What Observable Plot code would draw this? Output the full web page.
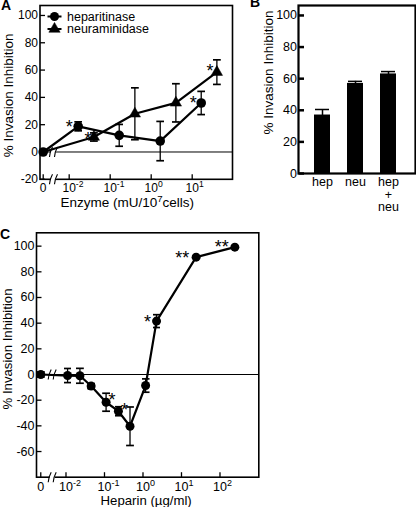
<!DOCTYPE html>
<html><head><meta charset="utf-8">
<script src="https://cdn.jsdelivr.net/npm/d3@7"></script>
<script src="https://cdn.jsdelivr.net/npm/@observablehq/plot@0.6"></script>
<style>
body{margin:0;background:#fff;}
#fig{position:relative;width:416px;height:507px;overflow:hidden;font-family:'Liberation Sans',Arial,Helvetica,sans-serif;}
.plab{position:absolute;font-weight:bold;font-size:14px;line-height:14px;}
</style></head>
<body><div id="fig"></div>
<script>
// ---------- Panel A data ----------
const hepDose  = [0, 0.0166, 0.166, 1.66, 16.6];
const hepInhib = [0, 18.8, 12.2, 8, 35.9];
const hepErr   = [0, 3.3, 8, 14.4, 8.5];
const neuDose  = [0, 0.04, 0.4, 4, 40];
const neuInhib = [0, 11, 28, 36, 58.5];
const neuErr   = [0, 3, 19, 14, 9];
const legendA  = ["heparitinase", "neuraminidase"];
const yTicksA  = [-20, 0, 20, 40, 60, 80, 100];
const xTicksA  = [0, 0.01, 0.1, 1, 10];
// ---------- Panel B data ----------
const bCategories = ["hep", "neu", "hep\n+\nneu"];
const bValues     = [37, 57, 63];
const bErr        = [3.5, 1.3, 1.5];
const yTicksB     = [0, 20, 40, 60, 80, 100];
// ---------- Panel C data ----------
const heparinDose  = [0, 0.011, 0.023, 0.045, 0.11, 0.23, 0.46, 1.17, 2.25, 24, 243];
const heparinInhib = [0, -0.8, -1, -9, -21.6, -28.6, -40.3, -8.6, 41.6, 91.4, 99.2];
const heparinErr   = [2, 5.5, 5.8, 2, 7, 3.5, 15, 5.2, 5, 0, 0];
const yTicksC      = [-60, -40, -20, 0, 20, 40, 60, 80, 100];
const xTicksC      = [0, 0.01, 0.1, 1, 10, 100];

const FONT = "'Liberation Sans', Arial, Helvetica, sans-serif";
const fig = document.getElementById("fig");

// axis-break positions on the log axes (zero is drawn left of the break)
const ZERO_A = 10 ** -2.634, BREAK_A = 10 ** -2.383;
const ZERO_C = 10 ** -2.655, BREAK_C = 10 ** -2.358;

const supFmt = (zero) => d => d === zero ? "0" : "10^{" + Math.round(Math.log10(d)) + "}";

// custom symbols
const breakBack = {draw(c){ c.moveTo(-4,5); c.lineTo(-1,-5); c.lineTo(4,-5); c.lineTo(1,5); c.closePath(); }};
const breakLines = {draw(c){ c.moveTo(-4,5); c.quadraticCurveTo(-3.8,0,-1,-5); c.moveTo(1,5); c.quadraticCurveTo(1.2,0,4,-5); }};
const legendLine = {draw(c){ c.moveTo(-7,0); c.lineTo(7,0); }};
const tickIn = (len, dir) => ({draw(c){ c.moveTo(0,0); if (dir === "x") c.lineTo(len,0); else c.lineTo(0,-len); }});

function rows(xs, ys, es, zero) {
  return xs.map((x, i) => ({x: x === 0 ? zero : x, y: ys[i], e: es[i]}));
}
function star(pt, label, dx, dy, fs = 18) {
  return Plot.text([pt], {x: "x", y: "y", text: () => label, dx, dy: dy + 0.265 * fs,
    fontSize: fs, textAnchor: "middle", lineAnchor: "middle", fill: "black"});
}
function errorBars(data, sw = 1.3) {
  return Plot.link(data.filter(d => d.e > 0), {x1: "x", x2: "x", y1: d => d.y - d.e, y2: d => d.y + d.e,
    stroke: "black", strokeWidth: sw, marker: "tick"});
}
function breakMarks(xv, yvals) {
  const d = yvals.map(y => ({x: xv, y}));
  return [
    Plot.dot(d, {x: "x", y: "y", symbol: breakBack, fill: "white", stroke: "none"}),
    Plot.dot(d, {x: "x", y: "y", symbol: breakLines, fill: "none", stroke: "black", strokeWidth: 1.1})
  ];
}
// inward ticks + labels on the left
function leftAxis(ticks, {fs, sw, len = 5, pad = 2}) {
  return [
    Plot.dot(ticks, {y: d => d, frameAnchor: "left", symbol: tickIn(len, "x"), stroke: "black", strokeWidth: sw}),
    Plot.text(ticks, {y: d => d, frameAnchor: "left", text: d => String(d), dx: -pad,
      textAnchor: "end", lineAnchor: "middle", fontSize: fs, fill: "black"})
  ];
}
// inward ticks + labels at the bottom
function bottomAxis(ticks, fmt, {fs, sw, len = 5, pad = 3}) {
  return [
    Plot.dot(ticks, {x: d => d, frameAnchor: "bottom", symbol: tickIn(len, "y"), stroke: "black", strokeWidth: sw}),
    Plot.text(ticks, {x: d => d, frameAnchor: "bottom", text: fmt, dy: pad,
      textAnchor: "middle", lineAnchor: "top", fontSize: fs, fill: "black"})
  ];
}

// turn "10^{-2}" into real superscript tspans
function supify(svg, fs) {
  svg.querySelectorAll("text, tspan").forEach(el => {
    if (el.children.length) return;
    const t = el.textContent;
    if (!t.includes("^{")) return;
    const m = t.match(/^(.*?)\^\{([^}]*)\}(.*)$/);
    if (!m) return;
    const size = parseFloat(getComputedStyle(el).fontSize) || fs;
    const ns = "http://www.w3.org/2000/svg";
    el.textContent = "";
    const base = document.createElementNS(ns, "tspan"); base.textContent = m[1];
    const sup = document.createElementNS(ns, "tspan"); sup.textContent = m[2];
    sup.setAttribute("font-size", (size * 0.72).toFixed(1));
    sup.setAttribute("dy", (-size * 0.38).toFixed(1));
    el.appendChild(base); el.appendChild(sup);
    if (m[3]) {
      const after = document.createElementNS(ns, "tspan"); after.textContent = m[3];
      after.setAttribute("dy", (size * 0.38).toFixed(1));
      el.appendChild(after);
    } else {
      const w = sup.getComputedTextLength();
      base.setAttribute("dx", (w / 2).toFixed(1));
    }
  });
}
function place(svg, left, top, fs) {
  const w = document.createElement("div");
  w.style.position = "absolute"; w.style.left = left + "px"; w.style.top = top + "px";
  w.appendChild(svg); fig.appendChild(w);
  supify(svg, fs);
}
function label(text, left, top) {
  const d = document.createElement("div"); d.className = "plab";
  d.style.left = left + "px"; d.style.top = top + "px"; d.textContent = text; fig.appendChild(d);
}

// ================= Panel A =================
const hepA = rows(hepDose, hepInhib, hepErr, ZERO_A);
const neuA = rows(neuDose, neuInhib, neuErr, ZERO_A);
const plotA = Plot.plot({
  width: 240, height: 215, marginLeft: 39.5, marginRight: 8, marginTop: 5, marginBottom: 36.2,
  style: {fontFamily: FONT, fontSize: "12px", color: "black", background: "transparent", overflow: "visible"},
  x: {type: "log", domain: [10 ** -2.712, 10 ** 1.983], axis: null},
  y: {domain: [-20, 107.3], axis: null},
  marks: [
    Plot.ruleY([0], {stroke: "black", strokeWidth: 1}),
    Plot.frame({stroke: "black", strokeWidth: 1.6}),
    ...leftAxis(yTicksA, {fs: 12, sw: 1.3, len: 5, pad: 2}),
    ...bottomAxis(xTicksA.map(d => d === 0 ? ZERO_A : d), supFmt(ZERO_A), {fs: 12, sw: 1.3, len: 5, pad: 4}),
    ...breakMarks(BREAK_A, [0, -20]),
    errorBars(hepA), errorBars(neuA),
    Plot.line(hepA, {x: "x", y: "y", stroke: "black", strokeWidth: 2.2}),
    Plot.line(neuA, {x: "x", y: "y", stroke: "black", strokeWidth: 2.2}),
    Plot.dot(hepA, {x: "x", y: "y", r: 4.8, fill: "black"}),
    Plot.dot(neuA.filter(d => d.x !== ZERO_A), {x: "x", y: "y", r: 4.2, symbol: "triangle", fill: "black", stroke: "black", strokeWidth: 0.5}),
    star(hepA[1], "*", -9, -4), star(hepA[4], "*", -8, -4.5),
    star(neuA[1], "*", -6, -3), star(neuA[4], "*", -7, -6),
    // legend
    Plot.dot([0], {frameAnchor: "top-left", dx: 14.5, dy: 11, symbol: legendLine, stroke: "black", strokeWidth: 2}),
    Plot.dot([0], {frameAnchor: "top-left", dx: 14.5, dy: 11, r: 4.5, fill: "black"}),
    Plot.dot([0], {frameAnchor: "top-left", dx: 14.5, dy: 23.5, symbol: legendLine, stroke: "black", strokeWidth: 2}),
    Plot.dot([0], {frameAnchor: "top-left", dx: 14.5, dy: 23.5, r: 4.2, symbol: "triangle", fill: "black", stroke: "black", strokeWidth: 0.5}),
    Plot.text([legendA[0]], {frameAnchor: "top-left", dx: 27, dy: 11, textAnchor: "start", lineAnchor: "middle", fontSize: 12.5}),
    Plot.text([legendA[1]], {frameAnchor: "top-left", dx: 27, dy: 23.5, textAnchor: "start", lineAnchor: "middle", fontSize: 12.5}),
    // axis titles
    Plot.text(["% Invasion Inhibition"], {frameAnchor: "left", dx: -31.5, dy: 3, rotate: -90, textAnchor: "middle", lineAnchor: "middle", fontSize: 13.5}),
    Plot.text(["Enzyme (mU/10^{7}cells)"], {frameAnchor: "bottom", dx: -9, dy: 23.5, textAnchor: "middle", lineAnchor: "middle", fontSize: 13.5})
  ]
});
place(plotA, 0, 0, 13.5);
label("A", 1, -2);

// ================= Panel B =================
const bRows = bCategories.map((c, i) => ({c, v: bValues[i], e: bErr[i]}));
const plotB = Plot.plot({
  width: 166, height: 215, marginLeft: 48, marginRight: 1, marginTop: 5, marginBottom: 42,
  style: {fontFamily: FONT, fontSize: "12.5px", color: "black", background: "transparent", overflow: "visible"},
  x: {type: "band", domain: bCategories, range: [46.4, 162.6], paddingInner: 0.53, paddingOuter: 0.5, axis: null},
  y: {domain: [0, 106.3], axis: null},
  marks: [
    Plot.barY(bRows, {x: "c", y: "v", fill: "black"}),
    Plot.ruleX(bRows, {x: "c", y1: d => d.v - d.e, y2: d => d.v + d.e, stroke: "black", strokeWidth: 1.5}),
    Plot.tickY(bRows, {x: "c", y: d => d.v + d.e, stroke: "black", strokeWidth: 1.5, insetLeft: 1, insetRight: 1}),
    Plot.frame({stroke: "black", strokeWidth: 2.2}),
    ...leftAxis(yTicksB, {fs: 12.5, sw: 2.5, len: 5.5, pad: 1.5}),
    Plot.text(bRows, {x: "c", frameAnchor: "bottom", text: "c", dy: 4, textAnchor: "middle", lineAnchor: "top", fontSize: 12.5, lineHeight: 1}),
    Plot.text(["% Invasion Inhibition"], {frameAnchor: "left", dx: -30, dy: -17, rotate: -90, textAnchor: "middle", lineAnchor: "middle", fontSize: 13.5})
  ]
});
place(plotB, 250, 0, 13);
label("B", 250, -5);

// ================= Panel C =================
const hepC = rows(heparinDose, heparinInhib, heparinErr, ZERO_C);
const plotC = Plot.plot({
  width: 265, height: 292, marginLeft: 36, marginRight: 6.7, marginTop: 17.3, marginBottom: 30.3,
  style: {fontFamily: FONT, fontSize: "12.5px", color: "black", background: "transparent", overflow: "visible"},
  x: {type: "log", domain: [10 ** -2.766, 10 ** 3.008], axis: null},
  y: {domain: [-80, 110.4], axis: null},
  marks: [
    Plot.ruleY([0], {stroke: "black", strokeWidth: 1}),
    Plot.frame({stroke: "black", strokeWidth: 1.6}),
    ...leftAxis(yTicksC, {fs: 12.5, sw: 1.3, len: 5, pad: 2}),
    ...bottomAxis(xTicksC.map(d => d === 0 ? ZERO_C : d), supFmt(ZERO_C), {fs: 12.5, sw: 1.3, len: 5, pad: 5}),
    ...breakMarks(BREAK_C, [0, -80]),
    errorBars(hepC),
    Plot.line(hepC, {x: "x", y: "y", stroke: "black", strokeWidth: 2.2}),
    Plot.dot(hepC, {x: "x", y: "y", r: 4.5, fill: "black"}),
    star(hepC[4], "*", 6, -7), star(hepC[5], "*", 6, -6), star(hepC[8], "*", -9, -4),
    star(hepC[9], "**", -14, -4), star(hepC[10], "**", -13, -5),
    Plot.text(["% Invasion Inhibition"], {frameAnchor: "left", dx: -29, dy: -6, rotate: -90, textAnchor: "middle", lineAnchor: "middle", fontSize: 13.2}),
    Plot.text(["Heparin (µg/ml)"], {frameAnchor: "bottom", dx: -1.5, dy: 23.3, textAnchor: "middle", lineAnchor: "middle", fontSize: 13.2})
  ]
});
place(plotC, 0, 215, 12.5);
label("C", 0, 227);
</script>
</body></html>
